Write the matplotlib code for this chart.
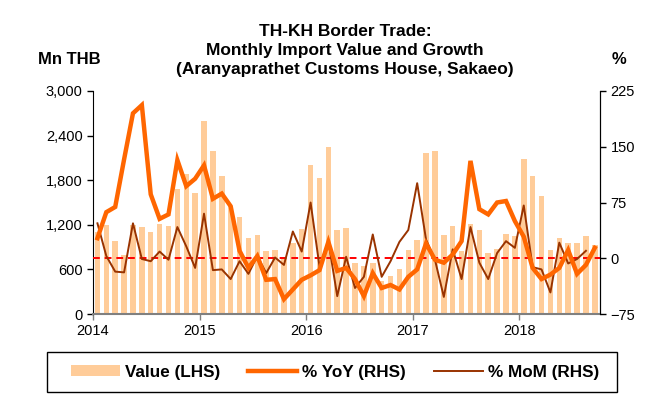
import numpy as np
import matplotlib
matplotlib.use("Agg")
import matplotlib.pyplot as plt
from matplotlib.patches import Patch, Rectangle
from matplotlib.lines import Line2D

plt.rcParams['font.family'] = ['Liberation Sans', 'DejaVu Sans']

start_year = 2014
value_lhs = [1100, 1200, 985, 800, 1195, 1165, 1105, 1205, 1180, 1675, 1880, 1630,
             2600, 2190, 1850, 1450, 1300, 1020, 1065, 845, 860, 750, 950, 1145,
             2010, 1835, 2240, 1125, 1155, 690, 650, 690, 450, 510, 605, 860,
             1000, 2165, 2195, 1060, 1180, 850, 1205, 1130, 820, 875, 1075, 1050,
             2080, 1862, 1583, 860, 1029, 950, 950, 1047, 925]
yoy_rhs = [27, 62, 69, 133, 195, 206, 86, 53, 59, 132, 97, 107,
           125, 80, 87, 70, 10, -13, 3, -29, -28, -55, -42, -29,
           -23, -16, 22, -17, -13, -28, -51, -20, -40, -36, -42, -25,
           -15, 20, -2, -6, 5, 23, 131, 66, 59, 75, 77, 50,
           29, -13, -28, -22, -13, 11, -21, -9, 14]
mom_rhs = [47, 3, -18, -19, 47, -1, -4, 9, -2, 42, 16, -13,
           60, -16, -15, -28, -4, -21, 3, -20, 1, -9, 36, 9,
           75, -11, 23, -51, 2, -40, -25, 32, -25, -4, 22, 38,
           101, 25, -2, -52, 12, -28, 42, -6, -28, 7, 23, 14,
           71, -12, -15, -46, 21, -7, -1, 10, np.nan]
year_ticks = [2014, 2015, 2016, 2017, 2018]
left_ticks = [0, 600, 1200, 1800, 2400, 3000]
right_ticks = [-75, 0, 75, 150, 225]

n = len(value_lhs)
x = start_year + (np.arange(n) + 0.5) / 12.0

W, H = 669, 403
fig = plt.figure(figsize=(W/100, H/100), dpi=100)
ax = fig.add_axes([93/W, 1-314/H, (600-93)/W, (314-91)/H])
ax2 = ax.twinx()

bar_c = '#FFCC99'
yoy_c = '#FF6600'
mom_c = '#993300'

ax.bar(x, value_lhs, width=0.62/12, color=bar_c, zorder=1)
ax.set_ylim(0, 3000)
ax.set_yticks(left_ticks)
ax.set_yticklabels([f"{v:,}" for v in left_ticks])
ax.set_xlim(2014, 2018.757)
ax.set_xticks(year_ticks)
ax.set_xticklabels([str(y) for y in year_ticks])

ax2.set_ylim(-75, 225)
ax2.set_yticks(right_ticks)
ax2.axhline(0, color='#FF0000', lw=1.4, ls=(0, (3.5, 2.5)), zorder=2)
ax2.plot(x, mom_rhs, color=mom_c, lw=1.4, zorder=3)
ax2.plot(x, yoy_rhs, color=yoy_c, lw=3.2, zorder=4, solid_joinstyle='miter')

for a in (ax, ax2):
    a.spines['top'].set_visible(False)
    a.tick_params(direction='out', labelsize=10.5, length=4, width=1)
ax.spines['left'].set_color('black')
ax.spines['bottom'].set_color('#808080')
ax.spines['bottom'].set_linewidth(1.5)
ax2.spines['right'].set_color('black')
ax2.spines['left'].set_visible(False)
ax2.spines['bottom'].set_visible(False)
ax.tick_params(axis='x', length=4, color='#808080', pad=3)
ax.set_zorder(ax2.get_zorder() - 1)
ax2.patch.set_visible(False)

fig.text(0.516, 1-50.5/H, "TH-KH Border Trade:\nMonthly Import Value and Growth\n(Aranyaprathet Customs House, Sakaeo)",
         ha='center', va='center', fontsize=12.5, fontweight='bold', linespacing=1.3)
fig.text(69/W, 1-59/H, "Mn THB", ha='center', va='center', fontsize=12, fontweight='bold')
fig.text(619/W, 1-59/H, "%", ha='center', va='center', fontsize=12, fontweight='bold')

# legend box
fig.add_artist(Rectangle((47/W, 1-392/H), 570/W, 40/H, transform=fig.transFigure,
                         facecolor='white', edgecolor='black', lw=1.0, zorder=5))
handles = [Patch(facecolor=bar_c, edgecolor='none'),
           Line2D([], [], color=yoy_c, lw=3.2),
           Line2D([], [], color=mom_c, lw=1.4)]
labels = ["Value (LHS)", "% YoY (RHS)", "% MoM (RHS)"]
leg = fig.legend(handles, labels, ncol=3, loc='center',
                 bbox_to_anchor=(335/W, 1-372/H),
                 frameon=False, prop={'size': 12.3, 'weight': 'bold'}, handlelength=2.9,
                 handleheight=0.6, columnspacing=1.6, borderpad=0.5, handletextpad=0.3)
leg.set_zorder(6)

fig.savefig('out.png', dpi=100)
